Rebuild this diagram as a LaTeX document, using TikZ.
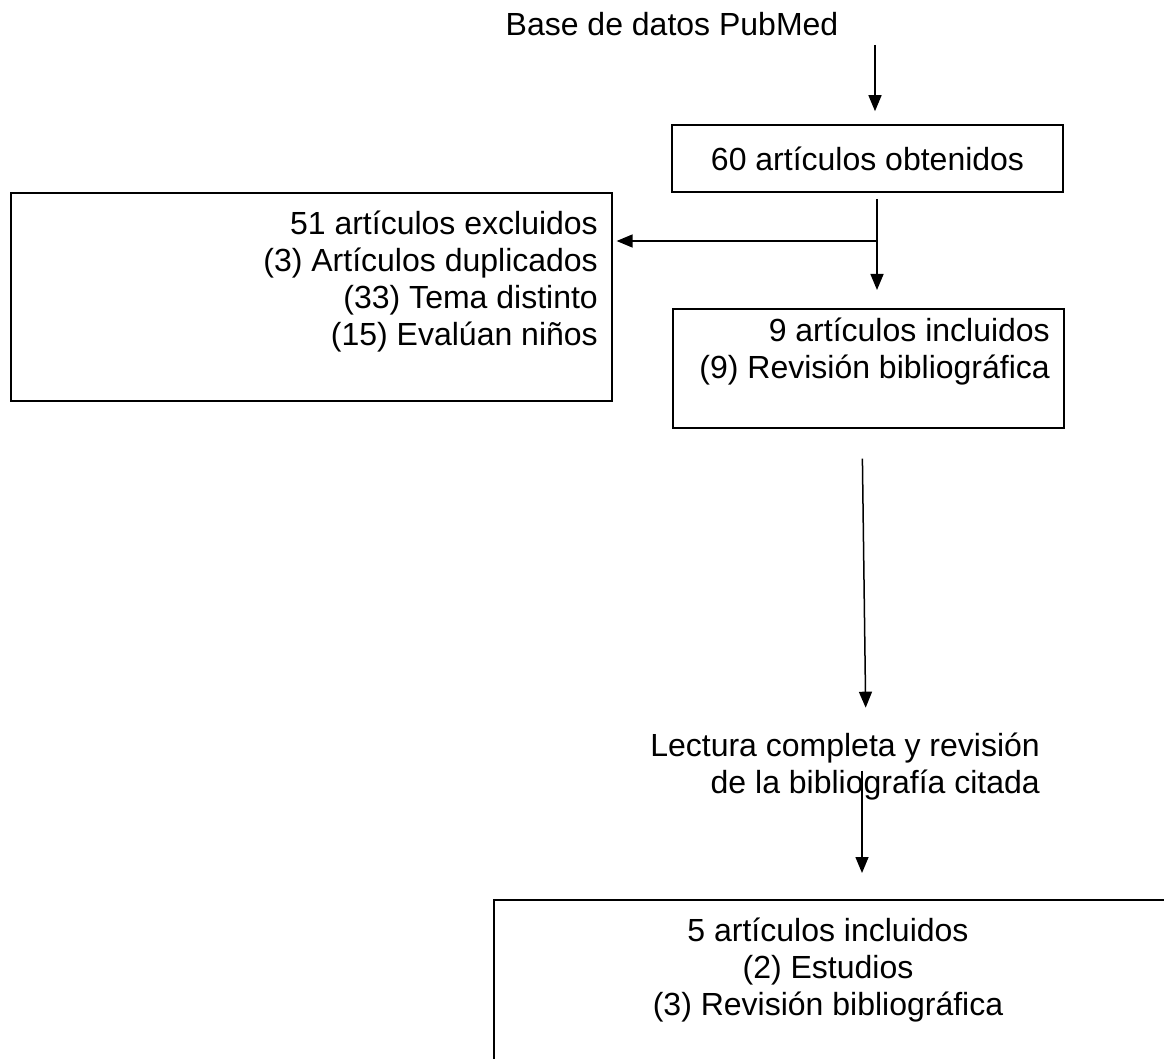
\documentclass[tikz,border=0pt]{standalone}
\usepackage{fontspec}
\setmainfont{Liberation Sans}
\usetikzlibrary{calc,positioning,arrows.meta}
\tikzset{
>={Triangle[length=16pt,width=13pt]},
  caja/.style={
    rectangle,
    draw=black, line width=1.6pt,
    inner sep=0pt},
  texto/.style={
    font=\fontsize{32}{37}\selectfont,
    inner sep=0pt},
  flecha/.style={draw, line width=1.5pt, ->},
}

\begin{document}
\begin{tikzpicture}[x=1pt,y=-1pt]
  \useasboundingbox (0,0) rectangle (1164,1059);
  \clip (0,0) rectangle (1164,1059);
  % ejes de las flechas
  \coordinate (ejeA) at (875,0);
  \coordinate (ejeB) at (877,0);
  \coordinate (ejeC) at (862,0);
  \coordinate (ejeD) at (866,0);
  \coordinate (rama) at (877,241);
  %% cajas
  \node[texto] (pubmed) at (672,24) {Base de datos PubMed};
  \node[caja, texto, minimum width=391pt, minimum height=67pt] (obtenidos) at (867.5,158.5) {60 artículos obtenidos};
  \node[caja, minimum width=601pt, minimum height=208pt, anchor=north west] (excluidos) at (10,192) {};
  \node[texto, align=right, anchor=east] (excluidostxt) at (598,282) {51 artículos excluidos\\(3) Artículos duplicados\\(33) Tema distinto\\(15) Evalúan niños};
  \node[caja, minimum width=391pt, minimum height=119pt, anchor=north west] (incluidos) at (672,308) {};
  \node[texto, align=right, anchor=east] (incluidostxt) at (1050,351.5) {9 artículos incluidos\\(9) Revisión bibliográfica};
  \node[texto, align=right, anchor=east] (lectura) at (1040,766.5) {Lectura completa y revisión\\de la bibliografía citada};
  \node[caja, minimum width=720pt, minimum height=220pt, anchor=north west] (final) at (493,899) {};
  \node[texto, align=center] (finaltxt) at (828,970) {5 artículos incluidos\\(2) Estudios\\(3) Revisión bibliográfica};
  %% flechas
  \draw[flecha, shorten <=9pt, shorten >=13pt] (pubmed.south -| ejeA) -- (obtenidos.north -| ejeA);
  \draw[flecha, shorten <=6pt, shorten >=18pt] (obtenidos.south -| ejeB) -- (incluidos.north -| ejeB);
  \draw[flecha, shorten >=4pt] (rama) -- (rama -| excluidos.east);
  \draw[flecha, shorten <=30pt, shorten >=25pt] (incluidos.south -| ejeC) -- (lectura.north -| ejeD);
  \draw[flecha, shorten <=4pt, shorten >=26pt] (lectura.center -| ejeC) -- (final.north -| ejeC);
\end{tikzpicture}
\end{document}
